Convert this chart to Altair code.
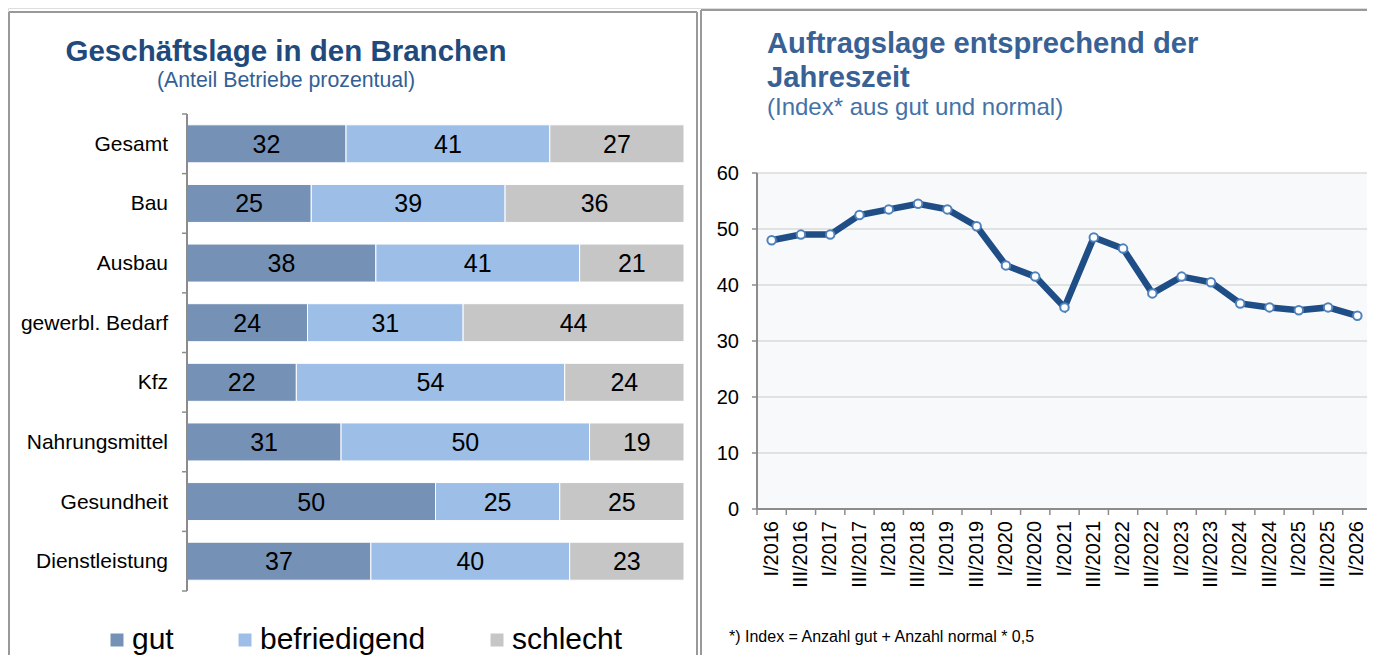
import altair as alt
import pandas as pd

# ---------------- data ----------------
categories = ["Gesamt", "Bau", "Ausbau", "gewerbl. Bedarf", "Kfz",
              "Nahrungsmittel", "Gesundheit", "Dienstleistung"]
gut = [32, 25, 38, 24, 22, 31, 50, 37]
befriedigend = [41, 39, 41, 31, 54, 50, 25, 40]
schlecht = [27, 36, 21, 44, 24, 19, 25, 23]
ratings = ["gut", "befriedigend", "schlecht"]
rating_colors = ["#7592B6", "#9DBEE6", "#C6C6C6"]

quarters = ["I/2016", "III/2016", "I/2017", "III/2017", "I/2018", "III/2018",
            "I/2019", "III/2019", "I/2020", "III/2020", "I/2021", "III/2021",
            "I/2022", "III/2022", "I/2023", "III/2023", "I/2024", "III/2024",
            "I/2025", "III/2025", "I/2026"]
index_values = [48, 49, 49, 52.5, 53.5, 54.5, 53.5, 50.5, 43.5, 41.5, 36,
                48.5, 46.5, 38.5, 41.5, 40.5, 36.7, 36, 35.5, 36, 34.5]
y_ticks = [0, 10, 20, 30, 40, 50, 60]

left_title = "Geschäftslage in den Branchen"
left_subtitle = "(Anteil Betriebe prozentual)"
right_title_1 = "Auftragslage entsprechend der"
right_title_2 = "Jahreszeit"
right_subtitle = "(Index* aus gut und normal)"
footnote = "*) Index = Anzahl gut + Anzahl normal * 0,5"

FONT = "Liberation Sans"
W, H = 1359, 647
GRAY = "#8C8C8C"

# ---------------- left panel: stacked bars ----------------
rows = []
for i, c in enumerate(categories):
    for j, (r, vals) in enumerate(zip(ratings, [gut, befriedigend, schlecht])):
        rows.append({"Branche": c, "Bewertung": r, "ord": j, "Wert": vals[i]})
bar_df = pd.DataFrame(rows)
cat_df = pd.DataFrame({"Branche": categories})

xs = alt.Scale(domain=[0, 1], range=[179, 676], nice=False, zero=False)
ys = alt.Scale(type="band", domain=categories, range=[106, 583],
               paddingInner=0, paddingOuter=0)

base_bar = (
    alt.Chart(bar_df)
    .transform_joinaggregate(total="sum(Wert)", groupby=["Branche"])
    .transform_window(cum="sum(Wert)", sort=[alt.SortField("ord")],
                      groupby=["Branche"], frame=[None, 0])
    .transform_calculate(start="(datum.cum - datum.Wert) / datum.total",
                         end="datum.cum / datum.total",
                         mid="(datum.cum - datum.Wert / 2) / datum.total")
)

bars = base_bar.mark_bar(size=38, stroke="white", strokeWidth=1).encode(
    x=alt.X("start:Q", scale=xs, axis=None),
    x2="end:Q",
    y=alt.Y("Branche:N", scale=ys, axis=None),
    color=alt.Color("Bewertung:N",
                    scale=alt.Scale(domain=ratings, range=rating_colors),
                    legend=alt.Legend(title=None, orient="none",
                                      legendX=94, legendY=617,
                                      direction="horizontal",
                                      symbolType="square", symbolSize=169,
                                      symbolStrokeWidth=0,
                                      labelFontSize=30, labelFont=FONT,
                                      labelColor="black", labelOffset=0,
                                      labelLimit=500,
                                      columnPadding=56, padding=0)),
)

bar_labels = base_bar.mark_text(font=FONT, fontSize=25, color="black",
                                align="center", baseline="middle", dy=1).encode(
    x=alt.X("mid:Q", scale=xs, axis=None),
    y=alt.Y("Branche:N", scale=ys, axis=None),
    text="Wert:Q",
)

# hand-built category axis (line, boundary ticks, labels)
left_domain = alt.Chart(cat_df).mark_rule(color=GRAY, strokeWidth=1.5).encode(
    x=alt.value(179), y=alt.value(106), y2=alt.value(583))
left_ticks = alt.Chart(cat_df).mark_rule(color=GRAY, strokeWidth=1.5).encode(
    y=alt.Y("Branche:N", scale=ys, bandPosition=0, axis=None),
    x=alt.value(174), x2=alt.value(179))
left_tick_end = alt.Chart(cat_df).transform_filter(
    alt.datum.Branche == categories[-1]
).mark_rule(color=GRAY, strokeWidth=1.5).encode(
    y=alt.Y("Branche:N", scale=ys, bandPosition=1, axis=None),
    x=alt.value(174), x2=alt.value(179))
left_axis_labels = alt.Chart(cat_df).mark_text(
    font=FONT, fontSize=21, color="black", align="right", baseline="middle",
    dy=1).encode(
    y=alt.Y("Branche:N", scale=ys, axis=None),
    x=alt.value(160), text="Branche:N")

left_panel = alt.layer(bars, bar_labels, left_domain, left_ticks,
                       left_tick_end, left_axis_labels)

# ---------------- right panel: line ----------------
line_df = pd.DataFrame({"Quartal": quarters, "Index": index_values})
grid_df = pd.DataFrame({"v": y_ticks[1:]})
ytick_df = pd.DataFrame({"v": y_ticks})

XR0, XR1 = 749, 1364
xr = alt.Scale(type="band", domain=quarters, range=[XR0, XR1],
               paddingInner=0, paddingOuter=0)
yr = alt.Scale(domain=[0, 60], range=[501, 165], nice=False, zero=True)

one = pd.DataFrame({"k": [0]})
plot_bg = alt.Chart(one).mark_rect(color="#F8F9FB").encode(
    x=alt.value(XR0), x2=alt.value(W), y=alt.value(165), y2=alt.value(501))

grid = alt.Chart(grid_df).mark_rule(color="#DADADA", strokeWidth=1.5).encode(
    y=alt.Y("v:Q", scale=yr, axis=None),
    x=alt.value(XR0), x2=alt.value(W))

line = alt.Chart(line_df).mark_line(color="#1F4E86", strokeWidth=6.5).encode(
    x=alt.X("Quartal:N", scale=xr, axis=None),
    y=alt.Y("Index:Q", scale=yr, axis=None),
)

points = alt.Chart(line_df).mark_point(shape="circle", filled=True,
                                       fill="white", stroke="#4F81BD",
                                       strokeWidth=2, size=72,
                                       opacity=1).encode(
    x=alt.X("Quartal:N", scale=xr, axis=None),
    y=alt.Y("Index:Q", scale=yr, axis=None),
)

# hand-built axes
r_ydomain = alt.Chart(one).mark_rule(color=GRAY, strokeWidth=2).encode(
    x=alt.value(XR0), y=alt.value(165), y2=alt.value(502))
r_xdomain = alt.Chart(one).mark_rule(color=GRAY, strokeWidth=2).encode(
    x=alt.value(XR0 - 1), x2=alt.value(W), y=alt.value(501))
r_yticks = alt.Chart(ytick_df).mark_rule(color=GRAY, strokeWidth=1.5).encode(
    y=alt.Y("v:Q", scale=yr, axis=None), x=alt.value(XR0 - 5),
    x2=alt.value(XR0))
r_ylabels = alt.Chart(ytick_df).mark_text(
    font=FONT, fontSize=20, color="black", align="right",
    baseline="middle", dy=1).encode(
    y=alt.Y("v:Q", scale=yr, axis=None), x=alt.value(731), text="v:Q")
r_xticks = alt.Chart(line_df).mark_rule(color=GRAY, strokeWidth=1.5).encode(
    x=alt.X("Quartal:N", scale=xr, bandPosition=0, axis=None),
    y=alt.value(501), y2=alt.value(507))
r_xlabels = alt.Chart(line_df).mark_text(
    font=FONT, fontSize=20, color="black", align="right",
    baseline="middle", angle=270).encode(
    x=alt.X("Quartal:N", scale=xr, axis=None),
    y=alt.value(513), text="Quartal:N")

right_panel = alt.layer(plot_bg, grid, line, points, r_ydomain, r_xdomain,
                        r_yticks, r_ylabels, r_xticks, r_xlabels)

# ---------------- frames ----------------
def frame_line(x1, x2, y1, y2):
    return alt.Chart(one).mark_rule(color="#999999", strokeWidth=2).encode(
        x=alt.value(x1), x2=alt.value(x2), y=alt.value(y1), y2=alt.value(y2))

frames = [
    frame_line(1, 1, 4, H),
    frame_line(1, 689, 4, 4),
    frame_line(689, 689, 4, H),
    frame_line(693, 693, 2, H),
    frame_line(693, W, 2, 2),
]

# ---------------- texts ----------------
def text_mark(txt, x, y, size, color, bold=False, align="left"):
    return alt.Chart(pd.DataFrame({"t": [txt]})).mark_text(
        font=FONT, fontSize=size, color=color, align=align,
        baseline="alphabetic", fontWeight="bold" if bold else "normal"
    ).encode(text="t:N", x=alt.value(x), y=alt.value(y))

texts = [
    text_mark(left_title, 278, 53, 29.5, "#21497C", bold=True, align="center"),
    text_mark(left_subtitle, 278, 79, 21.3, "#335F95", align="center"),
    text_mark(right_title_1, 759, 45, 29.2, "#386196", bold=True),
    text_mark(right_title_2, 759, 79, 29.2, "#386196", bold=True),
    text_mark(right_subtitle, 759, 107, 24, "#4472A8"),
    text_mark(footnote, 721, 634, 16, "black"),
]

chart = (
    alt.layer(*frames, left_panel, right_panel, *texts)
    .resolve_scale(x="independent", y="independent", color="independent")
    .properties(width=W, height=H, padding=0,
                autosize=alt.AutoSizeParams(type="none"))
    .configure_view(stroke=None)
    .configure(font=FONT)
)

chart.save("out.html", embed_options={"renderer": "svg", "actions": False})
